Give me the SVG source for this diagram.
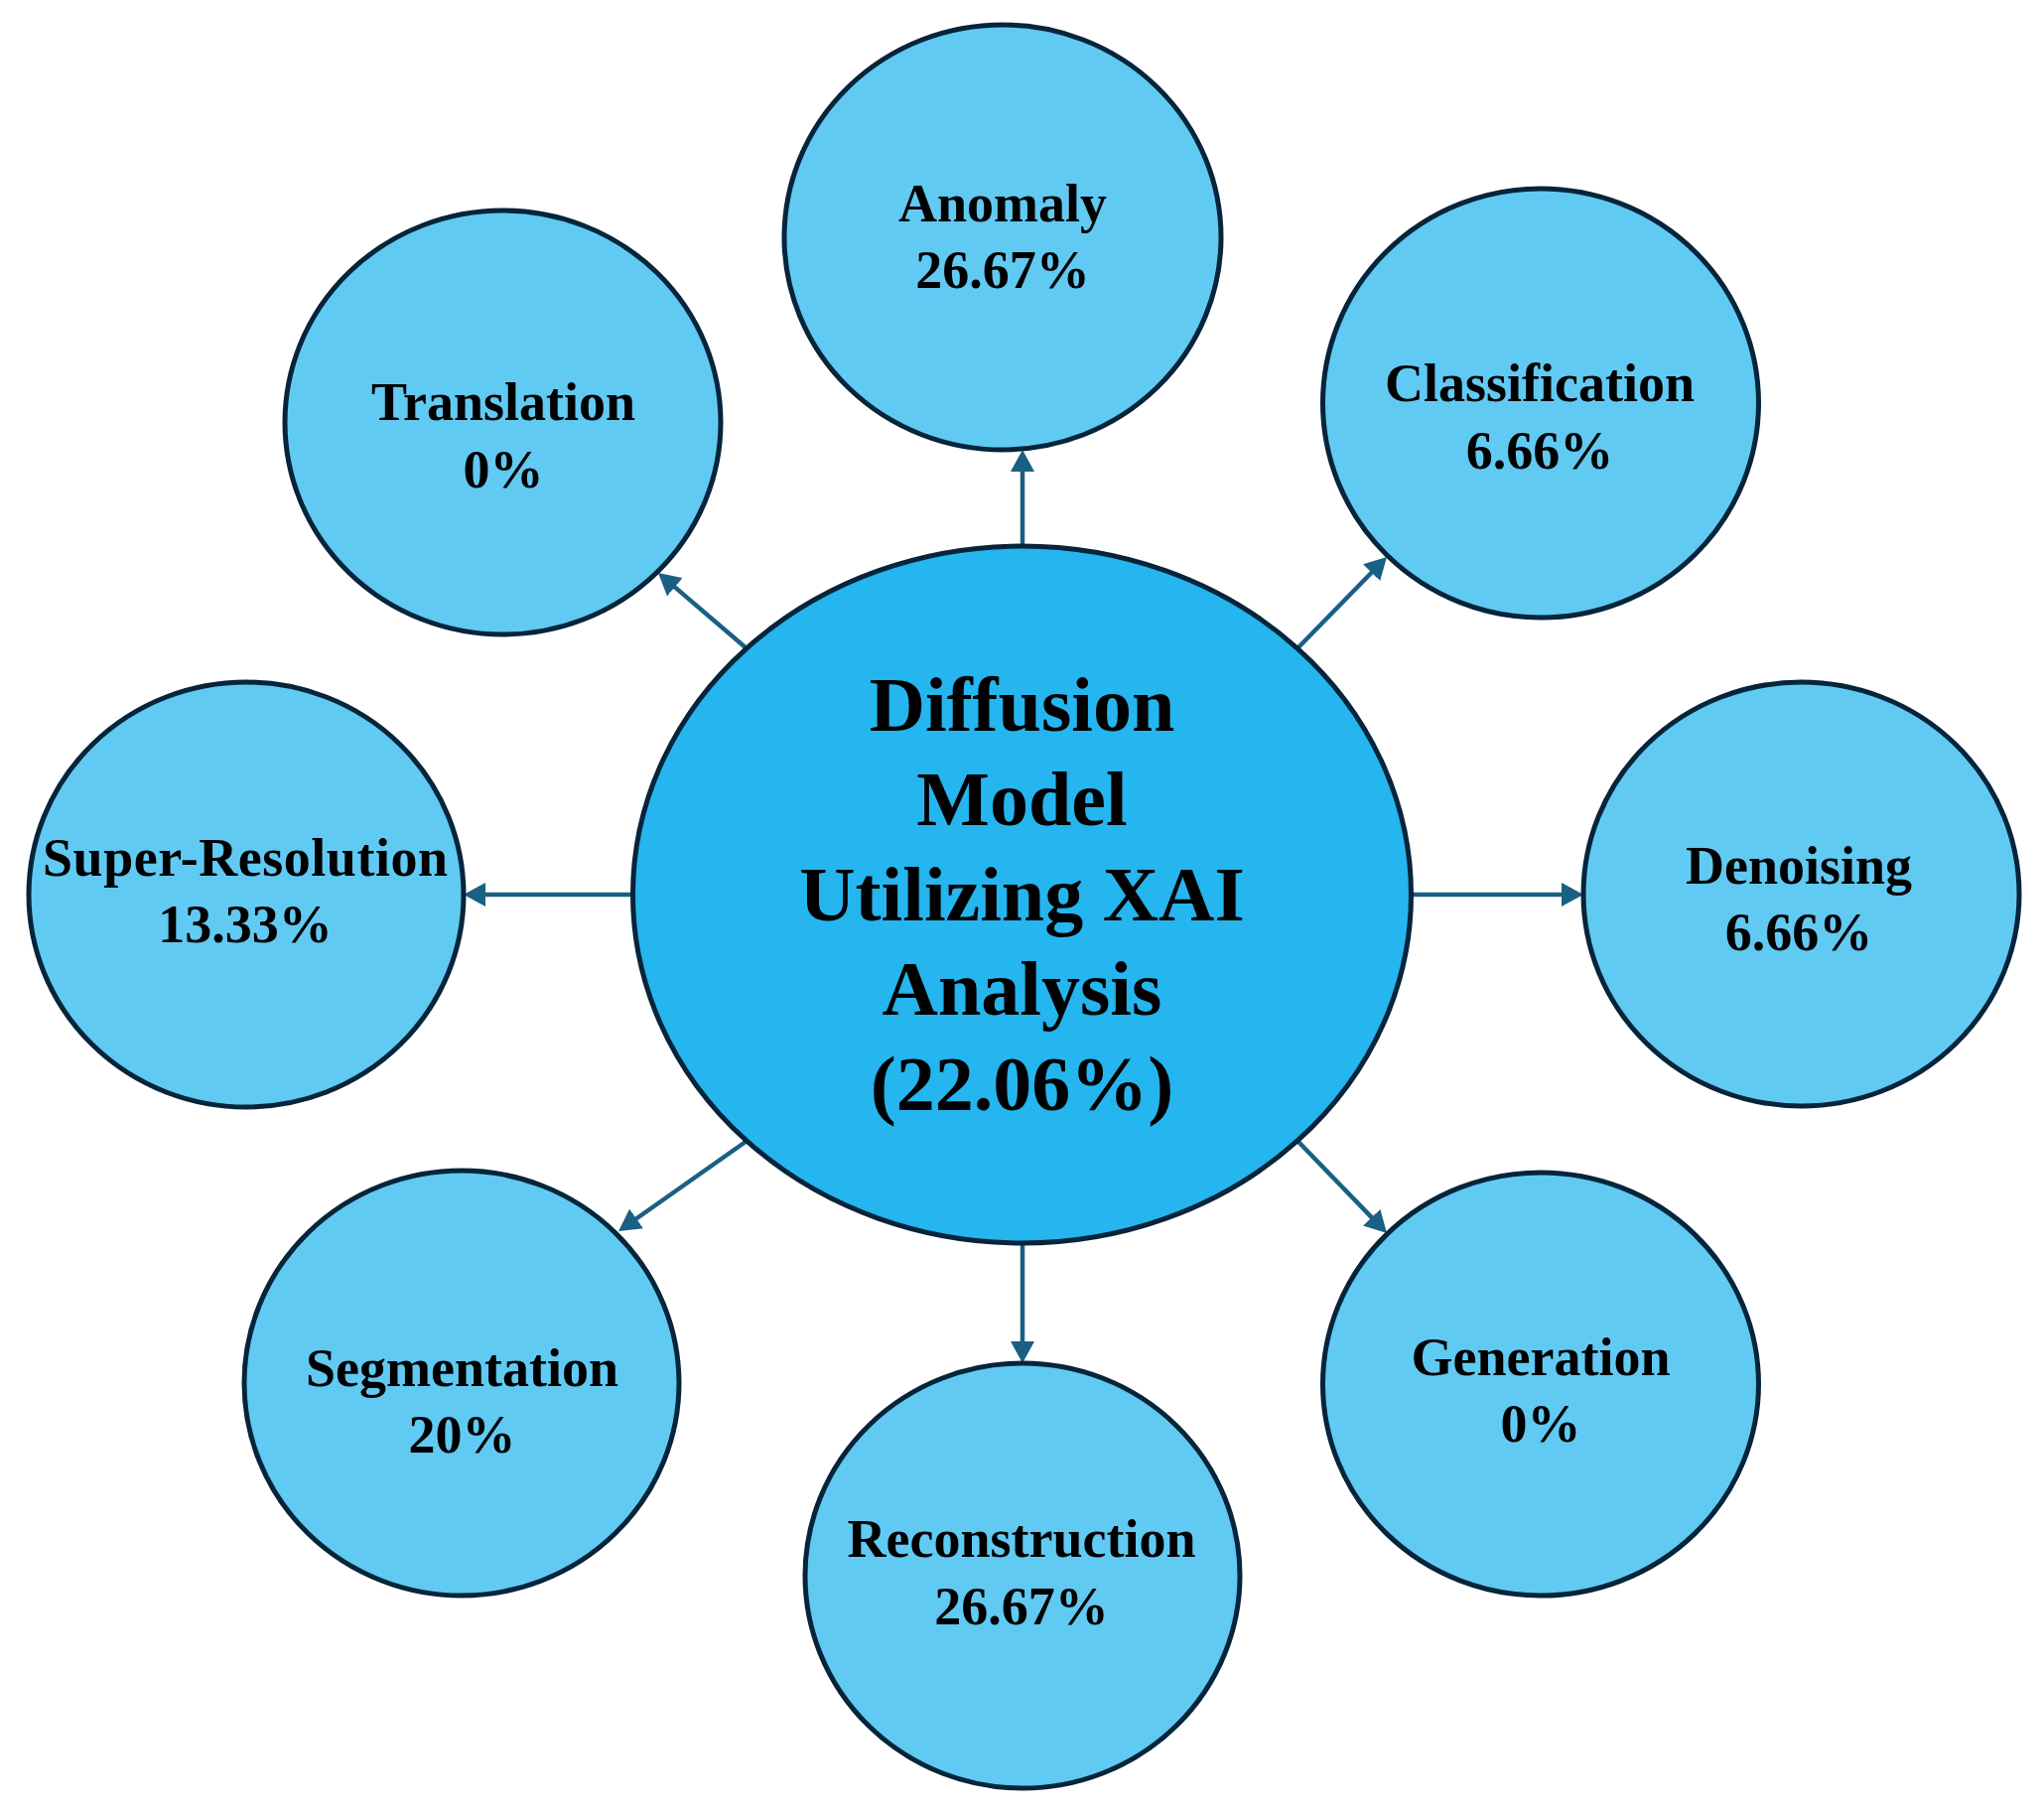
<svg xmlns="http://www.w3.org/2000/svg" width="2059" height="1826" viewBox="0 0 2059 1826">
<style>
.sat{fill:#61CAF2;stroke:#06243A;stroke-width:5}
.hub{fill:#25B5EF;stroke:#06243A;stroke-width:5}
.lbl{font-family:"Liberation Serif","Times New Roman",serif;font-weight:bold;font-size:54px;fill:#000;text-anchor:middle}
.hubt{font-family:"Liberation Serif","Times New Roman",serif;font-weight:bold;font-size:78px;fill:#000;text-anchor:middle}
.con{stroke:#1A5F84;stroke-width:4.5;fill:none;marker-end:url(#ah)}
</style>
<defs>
<marker id="ah" markerUnits="userSpaceOnUse" viewBox="0 0 22 24" markerWidth="22" markerHeight="24" refX="8" refY="12" orient="auto">
<path d="M0,0 L22,12 L0,24 Z" fill="#1A5F84"/>
</marker>
</defs>
<rect width="2059" height="1826" fill="#fff"/>
<g id="connectors">
<line class="con" x1="1030" y1="550" x2="1030" y2="467"/>
<line class="con" x1="752" y1="653" x2="673.7" y2="586.1"/>
<line class="con" x1="1307" y1="653" x2="1387.2" y2="571"/>
<line class="con" x1="637" y1="901" x2="481" y2="901"/>
<line class="con" x1="1422" y1="901" x2="1581" y2="901"/>
<line class="con" x1="751" y1="1150" x2="634.5" y2="1232"/>
<line class="con" x1="1030" y1="1253" x2="1030" y2="1359"/>
<line class="con" x1="1308" y1="1150" x2="1387.3" y2="1231.9"/>
</g>
<g id="hub">
<ellipse class="hub" cx="1029.5" cy="901" rx="392" ry="351"/>
<text class="hubt" x="1029.5" y="736">Diffusion</text>
<text class="hubt" x="1029.5" y="831">Model</text>
<text class="hubt" x="1029.5" y="927">Utilizing XAI</text>
<text class="hubt" x="1029.5" y="1022">Analysis</text>
<text class="hubt" x="1029.5" y="1118">(22.06%)</text>
</g>
<g id="anomaly">
<ellipse class="sat" cx="1010" cy="239" rx="220" ry="214"/>
<text class="lbl" x="1010" y="223">Anomaly</text>
<text class="lbl" x="1010" y="290">26.67%</text>
</g>
<g id="translation">
<ellipse class="sat" cx="506.5" cy="425.5" rx="219.5" ry="213.5"/>
<text class="lbl" x="507" y="423">Translation</text>
<text class="lbl" x="507" y="491">0%</text>
</g>
<g id="classification">
<ellipse class="sat" cx="1552" cy="406" rx="219.5" ry="216"/>
<text class="lbl" x="1551" y="404">Classification</text>
<text class="lbl" x="1551" y="472">6.66%</text>
</g>
<g id="super-resolution">
<ellipse class="sat" cx="248" cy="901" rx="219" ry="214"/>
<text class="lbl" x="247" y="882" textLength="408" lengthAdjust="spacing">Super-Resolution</text>
<text class="lbl" x="247" y="949">13.33%</text>
</g>
<g id="denoising">
<ellipse class="sat" cx="1814.5" cy="900.5" rx="219.5" ry="213.5"/>
<text class="lbl" x="1812" y="890">Denoising</text>
<text class="lbl" x="1812" y="957">6.66%</text>
</g>
<g id="segmentation">
<ellipse class="sat" cx="465" cy="1393" rx="219" ry="214"/>
<text class="lbl" x="465.5" y="1396">Segmentation</text>
<text class="lbl" x="465.5" y="1463">20%</text>
</g>
<g id="reconstruction">
<ellipse class="sat" cx="1030" cy="1587" rx="219" ry="214"/>
<text class="lbl" x="1029" y="1568">Reconstruction</text>
<text class="lbl" x="1029" y="1636">26.67%</text>
</g>
<g id="generation">
<ellipse class="sat" cx="1552" cy="1394" rx="219.5" ry="213"/>
<text class="lbl" x="1552" y="1385">Generation</text>
<text class="lbl" x="1552" y="1452">0%</text>
</g>
</svg>
